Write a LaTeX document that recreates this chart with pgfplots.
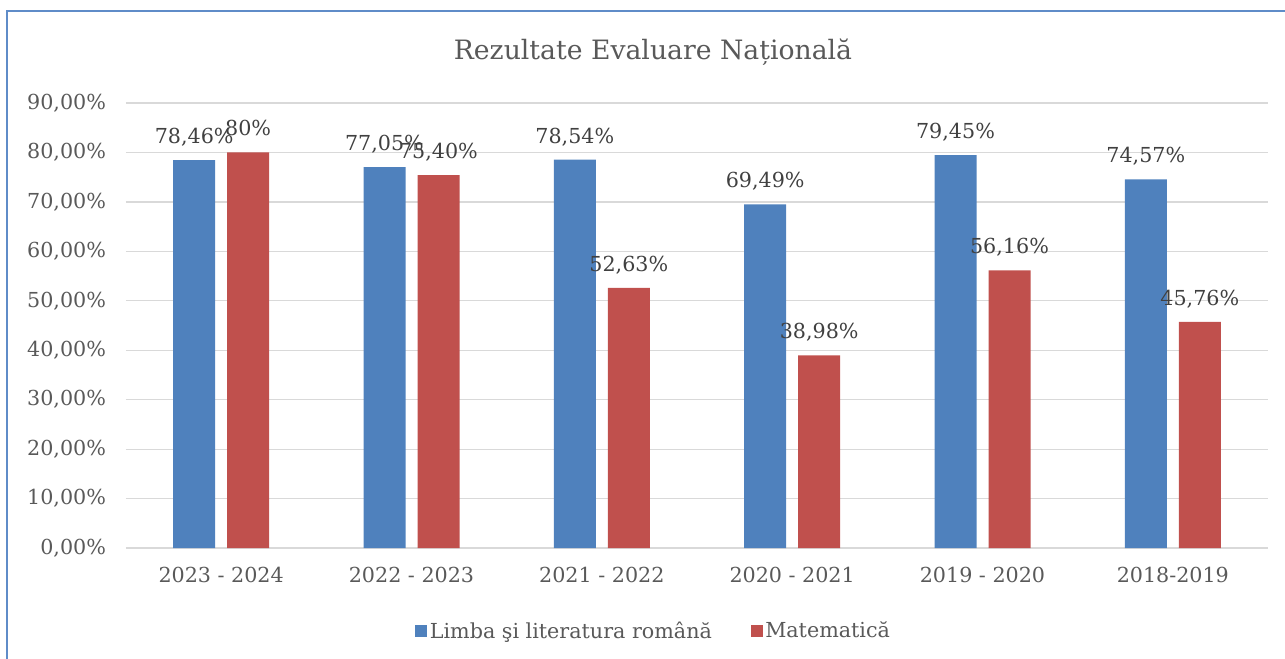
\documentclass[border=0pt]{standalone}
\usepackage{fontspec}
\setmainfont{DejaVu Serif}
\usepackage{pgfplots}
\pgfplotsset{compat=1.18}

\definecolor{cblue}{HTML}{4F81BD}
\definecolor{cred}{HTML}{C0504D}
\definecolor{ctext}{HTML}{595959}
\definecolor{clabel}{HTML}{404040}
\definecolor{cgrid}{HTML}{D9D9D9}
\definecolor{cframe}{HTML}{5F8CC8}

\newcommand{\sq}[1]{\fill[#1] (1pt,-4.5pt) rectangle (10pt,4.5pt);}

\begin{document}
\begin{tikzpicture}
% 1 px of the reference = 0.75pt, origin at top left
\path[use as bounding box] (0pt,0pt) rectangle (963.75pt,-494.25pt);
\draw[cframe, line width=1.5pt] (5.25pt,-494.25pt) -- (5.25pt,-8.25pt) -- (963.75pt,-8.25pt);

\node[font=\fontsize{20}{24}\selectfont, text=ctext] at (489.75pt,-39pt) {Rezultate Evaluare Națională};

\begin{axis}[
    at={(94.5pt,-411pt)}, anchor=south west,
    scale only axis,
    width=856.5pt, height=333.75pt,
    xmin=-0.5, xmax=5.5,
    ymin=0, ymax=90,
    axis line style={draw=none},
    major tick length=0pt,
    ymajorgrids,
    grid style={cgrid, line width=0.9pt},
    xtick={0,1,2,3,4,5},
    xticklabels={2023 - 2024, 2022 - 2023, 2021 - 2022, 2020 - 2021, 2019 - 2020, 2018-2019},
    ytick={0,10,20,30,40,50,60,70,80,90},
    yticklabels={{0,00\%},{10,00\%},{20,00\%},{30,00\%},{40,00\%},{50,00\%},{60,00\%},{70,00\%},{80,00\%},{90,00\%}},
    tick label style={font=\fontsize{15.5}{18}\selectfont, text=ctext},
    yticklabel style={xshift=-11.5pt},
    xticklabel style={yshift=-10.5pt},
    ybar, bar width=31.5pt,
    point meta=explicit symbolic,
    nodes near coords,
    every node near coord/.append style={font=\fontsize{15.5}{18}\selectfont, text=clabel, anchor=base, yshift=12.5pt},
    legend columns=2,
    legend style={draw=none, fill=none, at={(0.4623,-0.1865)}, anchor=center,
        font=\fontsize{15.5}{18}\selectfont, text=ctext,
        /tikz/every even column/.append style={column sep=27pt}},
]
\addplot[fill=cblue, draw=none, bar shift=-20.25pt, legend image code/.code={\sq{cblue}}] coordinates {
    (0,78.46) [78,46\%]
    (1,77.05) [77,05\%]
    (2,78.54) [78,54\%]
    (3,69.49) [69,49\%]
    (4,79.45) [79,45\%]
    (5,74.57) [74,57\%]
};
\addlegendentry{Limba şi literatura română}
\addplot[fill=cred, draw=none, bar shift=20.25pt, legend image code/.code={\sq{cred}}] coordinates {
    (0,80.00) [80\%]
    (1,75.40) [75,40\%]
    (2,52.63) [52,63\%]
    (3,38.98) [38,98\%]
    (4,56.16) [56,16\%]
    (5,45.76) [45,76\%]
};
\addlegendentry{Matematică}
\end{axis}
\end{tikzpicture}
\end{document}
